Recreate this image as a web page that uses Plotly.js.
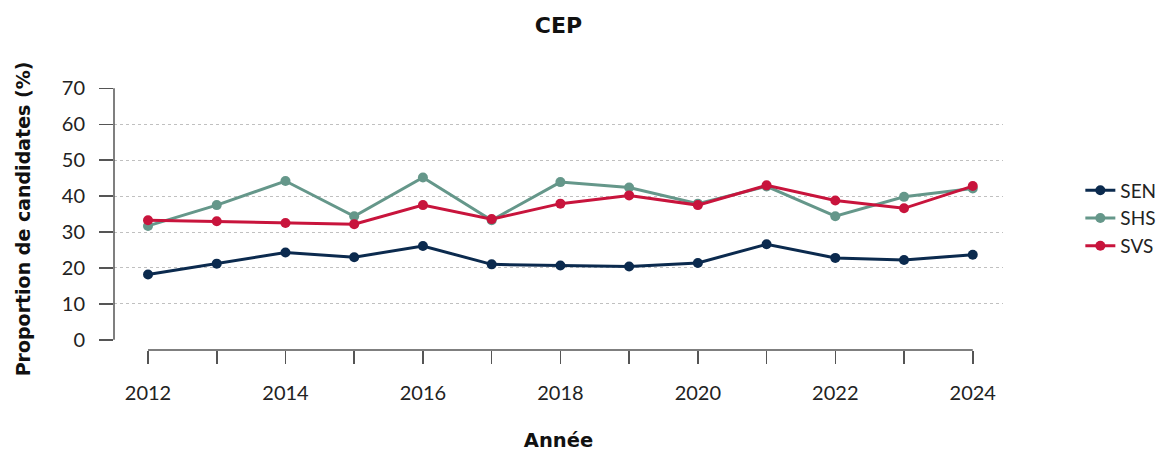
<!DOCTYPE html>
<html>
<head>
<meta charset="utf-8">
<script src="https://cdn.plot.ly/plotly-3.0.1.min.js"></script>
<style>html,body{margin:0;padding:0;background:#fff;}#chart{width:1176px;height:452px;}</style>
</head>
<body>
<div id="chart"></div>
<script>
const years = [2012,2013,2014,2015,2016,2017,2018,2019,2020,2021,2022,2023,2024];
const sen = [18.2,21.2,24.3,23.0,26.1,21.0,20.7,20.4,21.4,26.6,22.8,22.2,23.7];
const shs = [31.7,37.5,44.2,34.4,45.2,33.3,43.9,42.4,37.9,42.7,34.4,39.8,42.1];
const svs = [33.3,33.0,32.5,32.2,37.5,33.6,37.9,40.2,37.5,43.0,38.8,36.6,42.8];
const seriesNames = ['SEN','SHS','SVS'];
const colors = ['#0b2a4e','#65978a','#c8143c'];
const yTicks = [0,10,20,30,40,50,60,70];
const xTickLabels = years.map(y => (y % 2 === 0 ? String(y) : ''));

const FONT = 'Lato, "Open Sans", sans-serif';
const BOLD = '"DejaVu Sans", sans-serif';
const traces = [sen, shs, svs].map((vals, i) => ({
  x: years, y: vals, name: seriesNames[i], type: 'scatter', mode: 'lines+markers',
  line: {color: colors[i], width: 3},
  marker: {color: colors[i], size: 10}
}));

const layout = {
  width: 1176, height: 452,
  margin: {l: 114, r: 173, t: 88, b: 102, autoexpand: false},
  paper_bgcolor: '#fff', plot_bgcolor: '#fff',
  font: {family: FONT, color: '#222', size: 20},
  title: {text: '<b>CEP</b>', x: 0.5, xref: 'paper', y: 0.945, yanchor: 'middle', font: {family: BOLD, size: 22, color: '#111'}},
  showlegend: true,
  legend: {x: 1.087, xanchor: 'left', y: 0.502, yanchor: 'middle', font: {family: FONT, size: 19, color: '#222'}, tracegroupgap: 0},
  xaxis: {
    range: [2011.505, 2024.44], showgrid: false, zeroline: false, showline: false,
    tickmode: 'array', tickvals: years, ticktext: xTickLabels,
    ticks: 'outside', ticklen: 13, tickwidth: 1.5, tickcolor: '#555',
    ticklabelstandoff: 12, tickfont: {family: FONT, size: 20, color: '#222'},
    title: {text: '<b>Année</b>', font: {family: BOLD, size: 19.5, color: '#111'}, standoff: 34}
  },
  yaxis: {
    range: [-2.84, 70.1], showline: false,
    tickmode: 'array', tickvals: yTicks,
    ticks: 'outside', ticklen: 14, tickwidth: 1.5, tickcolor: '#555',
    ticklabelstandoff: 10, tickfont: {family: FONT, size: 20, color: '#222'},
    showgrid: true, gridcolor: '#c0c0c0', griddash: 'dot', gridwidth: 1,
    zeroline: true, zerolinecolor: '#ffffff', zerolinewidth: 2,
    title: {text: '<b>Proportion de candidates (%)</b>', font: {family: BOLD, size: 19, color: '#111'}, standoff: 26}
  },
  shapes: [
    {type: 'line', xref: 'paper', yref: 'y', x0: 0, x1: 0, y0: yTicks[0], y1: yTicks[yTicks.length-1], line: {color: '#555', width: 1.5}},
    {type: 'line', xref: 'x', yref: 'paper', x0: years[0], x1: years[years.length-1], y0: 0, y1: 0, line: {color: '#555', width: 1.5}}
  ]
};

Plotly.newPlot('chart', traces, layout, {displayModeBar: false, staticPlot: true});
</script>
</body>
</html>
